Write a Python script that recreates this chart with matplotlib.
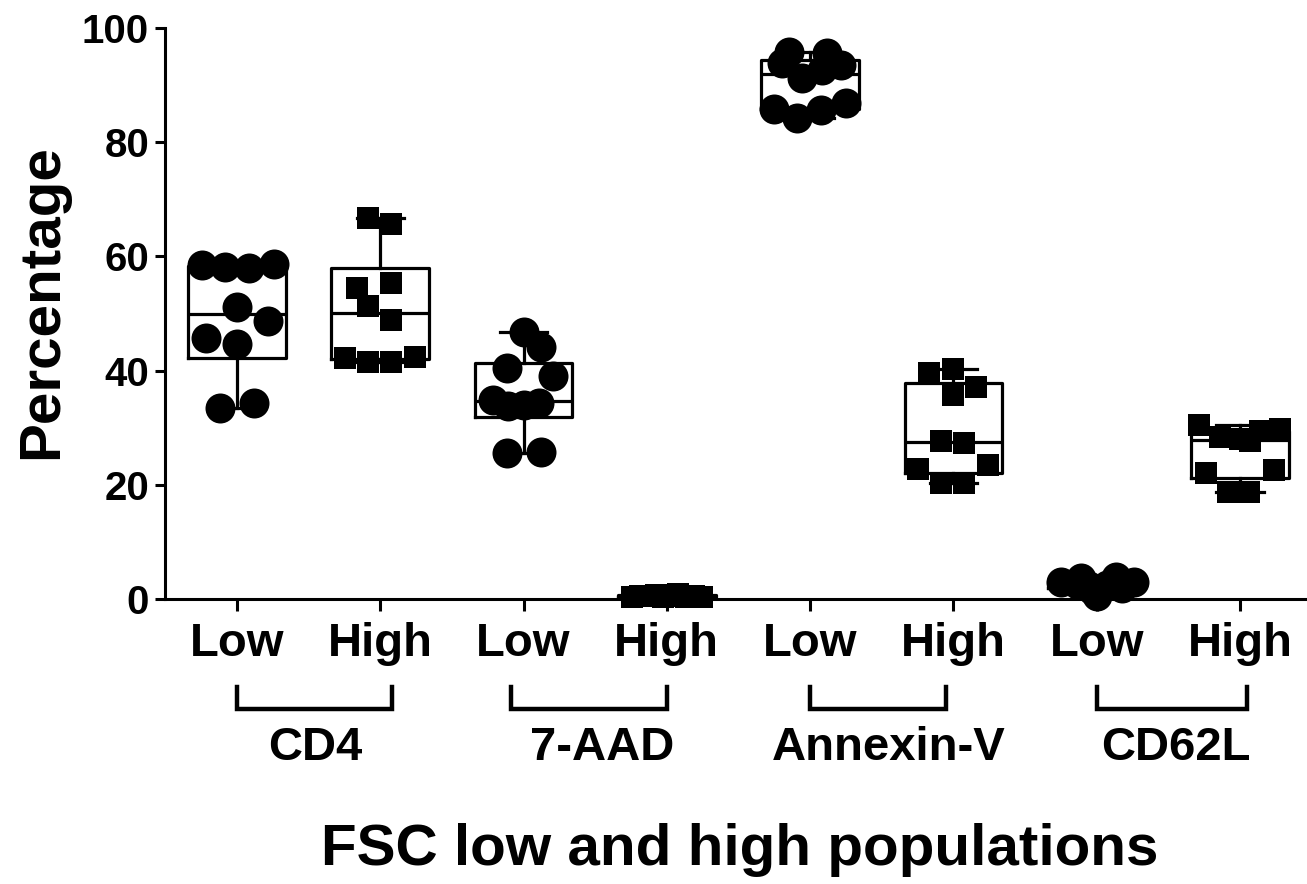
import numpy as np
import matplotlib
matplotlib.use("Agg")
import matplotlib.pyplot as plt

plt.rcParams['font.family'] = ['Liberation Sans', 'DejaVu Sans']
plt.rcParams['font.weight'] = 'bold'

# ---------------- data ----------------
groups = ["CD4", "7-AAD", "Annexin-V", "CD62L"]
levels = ["Low", "High"]

cd4_low = [58.5, 58.2, 57.9, 58.6, 51.1, 48.6, 45.7, 44.7, 33.4, 34.4]
cd4_high = [66.7, 65.7, 54.4, 55.4, 51.3, 48.9, 42.2, 41.5, 41.5, 42.3]
aad_low = [46.8, 44.2, 40.4, 39.1, 34.9, 33.8, 34.0, 34.3, 25.5, 25.8]
aad_high = [0.4, 0.6, 0.5, 0.7, 0.3, 0.5, 0.8, 0.4, 0.6, 0.3]
annex_low = [95.8, 95.6, 93.9, 93.5, 91.2, 92.6, 85.9, 84.2, 85.6, 86.8]
annex_high = [39.5, 40.2, 37.2, 35.8, 27.6, 27.3, 22.7, 23.5, 20.3, 20.3]
cd62l_low = [3.0, 3.6, 0.5, 3.9, 3.0, 2.6, 2.4, 2.2, 2.0, 1.5]
cd62l_high = [30.5, 29.7, 29.4, 28.4, 28.0, 27.6, 22.0, 22.6, 18.8, 18.8]

series = [cd4_low, cd4_high, aad_low, aad_high,
          annex_low, annex_high, cd62l_low, cd62l_high]

# ---------------- layout / style (scatter spread in px) ----------------
spread_px = [
    [-35, -12, 12, 37, 0, 31, -31, 0, -17, 17],
    [-12, 11, -23, 11, -12, 11, -35, -12, 11, 35],
    [0, 18, -17, 30, -31, -16, 0, 16, -17, 18],
    [-35, -27, -19, -11, -4, 4, 11, 19, 27, 35],
    [-21, 17, -28, 31, -8, 12, -36, -13, 11, 36],
    [-24, 0, 23, 0, -12, 11, -35, 35, -12, 11],
    [-36, -16, 0, 19, 37, -20, 10, -8, 25, -5],
    [-41, 40, 20, -20, 0, 10, -34, 34, -12, 9],
]
PX_PER_UNIT = 143.4
# bracket end adjustments (axis units) per group: (left, right)
bracket_adj = [(0.0, 0.08), (-0.09, 0.0), (0.0, -0.05), (0.0, 0.05)]

W, H = 1307, 884
fig = plt.figure(figsize=(W / 100, H / 100), dpi=100)
ax = fig.add_axes([165 / W, (H - 599) / H, (W - 165) / W, 571 / H])

positions = np.arange(len(series))
stats = []
for vals in series:
    q1, med, q3 = np.percentile(vals, [25, 50, 75], method='weibull')
    stats.append(dict(med=med, q1=q1, q3=q3, whislo=min(vals),
                      whishi=max(vals), fliers=[]))

lw = 2.3
ax.bxp(stats, positions=positions, widths=0.68, capwidths=0.33,
       showfliers=False, patch_artist=False,
       boxprops=dict(color='black', linewidth=lw),
       whiskerprops=dict(color='black', linewidth=lw),
       capprops=dict(color='black', linewidth=lw),
       medianprops=dict(color='black', linewidth=lw),
       zorder=2)

for i, vals in enumerate(series):
    xs = positions[i] + np.array(spread_px[i]) / PX_PER_UNIT
    if i % 2 == 0:
        ax.scatter(xs, vals, s=21.6 ** 2, marker='o', color='black',
                   linewidths=0, zorder=3, clip_on=False)
    else:
        ax.scatter(xs, vals, s=15.2 ** 2, marker='s', color='black',
                   linewidths=0, zorder=3, clip_on=False)

ax.set_xlim(-0.502, 7.468)
ax.set_ylim(0, 100)
ax.set_yticks([0, 20, 40, 60, 80, 100])
ax.set_xticks(positions)
ax.set_xticklabels(levels * len(groups))

for side in ['top', 'right']:
    ax.spines[side].set_visible(False)
for side in ['left', 'bottom']:
    ax.spines[side].set_linewidth(2.2)

ax.tick_params(axis='y', length=7.5, width=2.2, labelsize=29, pad=4)
ax.tick_params(axis='x', length=8.5, width=2.2, labelsize=34, pad=8)
for lab in ax.get_xticklabels() + ax.get_yticklabels():
    lab.set_fontweight('bold')

# brackets and group labels
trans = ax.get_xaxis_transform()
y_top = -(687 - 599) / 571
y_bot = -(709 - 599) / 571
y_txt = -(748 - 599) / 571
for g, name in enumerate(groups):
    x0 = positions[2 * g] + bracket_adj[g][0]
    x1 = positions[2 * g + 1] + bracket_adj[g][1]
    ax.plot([x0, x0, x1, x1], [y_top, y_bot, y_bot, y_top], color='black',
            linewidth=3.2, transform=trans, clip_on=False,
            solid_joinstyle='miter')
    ax.text((positions[2 * g] + positions[2 * g + 1]) / 2 + 0.05, y_txt, name,
            transform=trans, ha='center', va='center', fontsize=34,
            fontweight='bold')

fig.text(740 / W, 1 - 850 / H, "FSC low and high populations", ha='center',
         va='center', fontsize=42, fontweight='bold')
fig.text(42 / W, 1 - 302 / H, "Percentage", ha='center', va='center',
         rotation=90, fontsize=42, fontweight='bold')

fig.savefig("out.png", dpi=100)
